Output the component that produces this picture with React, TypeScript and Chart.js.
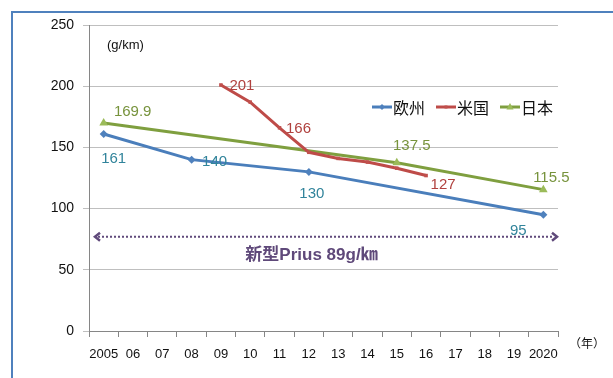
import React, { useEffect, useRef } from "react";
import { Chart, registerables } from "chart.js";

Chart.register(...registerables);

const years = ["2005", "06", "07", "08", "09", "10", "11", "12", "13", "14", "15", "16", "17", "18", "19", "2020"];
const europe = [161, null, null, 140, null, null, null, 130, null, null, null, null, null, null, null, 95];
const usa = [null, null, null, null, 201, 187, 166, 146, 141, 138, 133, 127, null, null, null, null];
const japan = [169.9, null, null, null, null, null, null, null, null, null, 137.5, null, null, null, null, 115.5];
const seriesNames = ["欧州", "米国", "日本"];
const priusValue = 77;
const priusText = "新型Prius 89g/㎞";
const unitText = "(g/km)";
const yearText = "（年）";

// label placement offsets (px) for shown data labels
const labelSpots = [
  [{ i: 0, dx: 10, dy: 25 }, { i: 3, dx: 23, dy: 2 }, { i: 7, dx: 3, dy: 22 }, { i: 15, dx: -25, dy: 16 }],
  [{ i: 4, dx: 21, dy: 1 }, { i: 6, dx: 19, dy: 1 }, { i: 11, dx: 17, dy: 9 }],
  [{ i: 0, dx: 29, dy: -11 }, { i: 10, dx: 15, dy: -17 }, { i: 15, dx: 8, dy: -12 }],
];
const labelColors = ["#31849B", "#B0413E", "#77933C"];
const lineColors = ["#4A7EBB", "#BE4B48", "#7F9F3F"];
const markerColors = ["#4F81BD", "#C0504D", "#9BBB59"];
const markerStyles = ["rectRot", "rect", "triangle"];
const markerRadii = [4, 2.5, 5];

const FONT = "'Liberation Sans', 'Noto Sans CJK JP', sans-serif";
const CJK = "'Noto Sans CJK JP', 'Liberation Sans', sans-serif";

function drawMarker(ctx, style, x, y, r, color) {
  ctx.save();
  ctx.fillStyle = color;
  ctx.beginPath();
  if (style === "rectRot") {
    ctx.moveTo(x, y - r);
    ctx.lineTo(x + r, y);
    ctx.lineTo(x, y + r);
    ctx.lineTo(x - r, y);
  } else if (style === "triangle") {
    ctx.moveTo(x, y - r);
    ctx.lineTo(x + r * 0.9, y + r * 0.6);
    ctx.lineTo(x - r * 0.9, y + r * 0.6);
  } else {
    ctx.rect(x - r, y - r, 2 * r, 2 * r);
  }
  ctx.closePath();
  ctx.fill();
  ctx.restore();
}

const overlay = {
  id: "overlay",
  beforeDraw(chart) {
    const ctx = chart.ctx;
    ctx.save();
    ctx.strokeStyle = "#4F81BD";
    ctx.lineWidth = 2;
    ctx.strokeRect(12, 12, chart.width + 50, chart.height + 50);
    ctx.restore();
  },
  afterDatasetsDraw(chart) {
    const ctx = chart.ctx;
    const area = chart.chartArea;
    const yS = chart.scales.y;
    ctx.save();
    // data labels
    ctx.font = `15px ${FONT}`;
    ctx.textAlign = "center";
    ctx.textBaseline = "middle";
    labelSpots.forEach((spots, di) => {
      const meta = chart.getDatasetMeta(di);
      const data = chart.data.datasets[di].data;
      ctx.fillStyle = labelColors[di];
      spots.forEach((s) => {
        const el = meta.data[s.i];
        if (!el) return;
        ctx.fillText(String(data[s.i]), el.x + s.dx, el.y + s.dy);
      });
    });
    // Prius arrow
    const ay = yS.getPixelForValue(priusValue);
    const x1 = area.left + 6;
    const x2 = area.right - 1;
    ctx.strokeStyle = "#604A7B";
    ctx.lineWidth = 2;
    ctx.setLineDash([2, 2]);
    ctx.beginPath();
    ctx.moveTo(x1 + 3, ay);
    ctx.lineTo(x2 - 3, ay);
    ctx.stroke();
    ctx.setLineDash([]);
    ctx.lineWidth = 2.5;
    ctx.beginPath();
    ctx.moveTo(x1 + 5, ay - 4);
    ctx.lineTo(x1, ay);
    ctx.lineTo(x1 + 5, ay + 4);
    ctx.moveTo(x2 - 5, ay - 4);
    ctx.lineTo(x2, ay);
    ctx.lineTo(x2 - 5, ay + 4);
    ctx.stroke();
    ctx.fillStyle = "#5F497A";
    ctx.font = `bold 17px ${FONT}`;
    ctx.fillText(priusText, (area.left + area.right) / 2 - 12, ay + 19);
    // unit labels
    ctx.fillStyle = "#111";
    ctx.font = `13px ${FONT}`;
    ctx.textAlign = "left";
    ctx.fillText(unitText, area.left + 18, area.top + 20);
    ctx.font = `12px ${CJK}`;
    ctx.textAlign = "center";
    ctx.fillText(yearText, area.right + 29, area.bottom + 12);
    // legend
    let lx = area.right - 186;
    const ly = yS.getPixelForValue(183);
    ctx.font = `16px ${CJK}`;
    ctx.textAlign = "left";
    seriesNames.forEach((name, i) => {
      ctx.strokeStyle = lineColors[i];
      ctx.lineWidth = 3;
      ctx.beginPath();
      ctx.moveTo(lx, ly);
      ctx.lineTo(lx + 20, ly);
      ctx.stroke();
      drawMarker(ctx, markerStyles[i], lx + 10, ly, markerRadii[i] - 1, markerColors[i]);
      ctx.fillStyle = "#111";
      ctx.fillText(name, lx + 21, ly + 1);
      lx += 21 + ctx.measureText(name).width + 11;
    });
    ctx.restore();
  },
};

export default function App() {
  const ref = useRef(null);
  useEffect(() => {
    const series = [europe, usa, japan];
    const chart = new Chart(ref.current, {
      type: "line",
      data: {
        labels: years,
        datasets: series.map((d, i) => ({
          label: seriesNames[i],
          data: d,
          borderColor: lineColors[i],
          backgroundColor: markerColors[i],
          borderWidth: 3,
          pointStyle: markerStyles[i],
          pointRadius: markerRadii[i],
          pointBorderWidth: 0,
          pointBackgroundColor: markerColors[i],
          spanGaps: true,
          tension: 0,
        })),
      },
      options: {
        responsive: false,
        animation: false,
        devicePixelRatio: 1,
        layout: { padding: { left: 0, top: 25, right: 55, bottom: 0 } },
        plugins: { legend: { display: false }, tooltip: { enabled: false } },
        scales: {
          x: {
            type: "category",
            offset: true,
            grid: { offset: true, drawOnChartArea: false, drawTicks: true, tickLength: 6, color: "#868686" },
            border: { color: "#868686" },
            ticks: { font: { size: 13, family: FONT }, color: "#111", padding: 10, autoSkip: false, maxRotation: 0 },
            afterFit: (s) => { s.height = 47; },
          },
          y: {
            min: 0,
            max: 250,
            ticks: { stepSize: 50, font: { size: 14, family: FONT }, color: "#111", padding: 9 },
            grid: { color: "#BFBFBF", tickLength: 6 },
            border: { color: "#868686" },
            afterFit: (s) => { s.width = 89; },
          },
        },
      },
      plugins: [overlay],
    });
    return () => chart.destroy();
  }, []);
  return (
    <div style={{ position: "fixed", left: 0, top: 0, width: 613, height: 378, background: "#fff" }}>
      <canvas ref={ref} width={613} height={378} style={{ display: "block" }} />
    </div>
  );
}
